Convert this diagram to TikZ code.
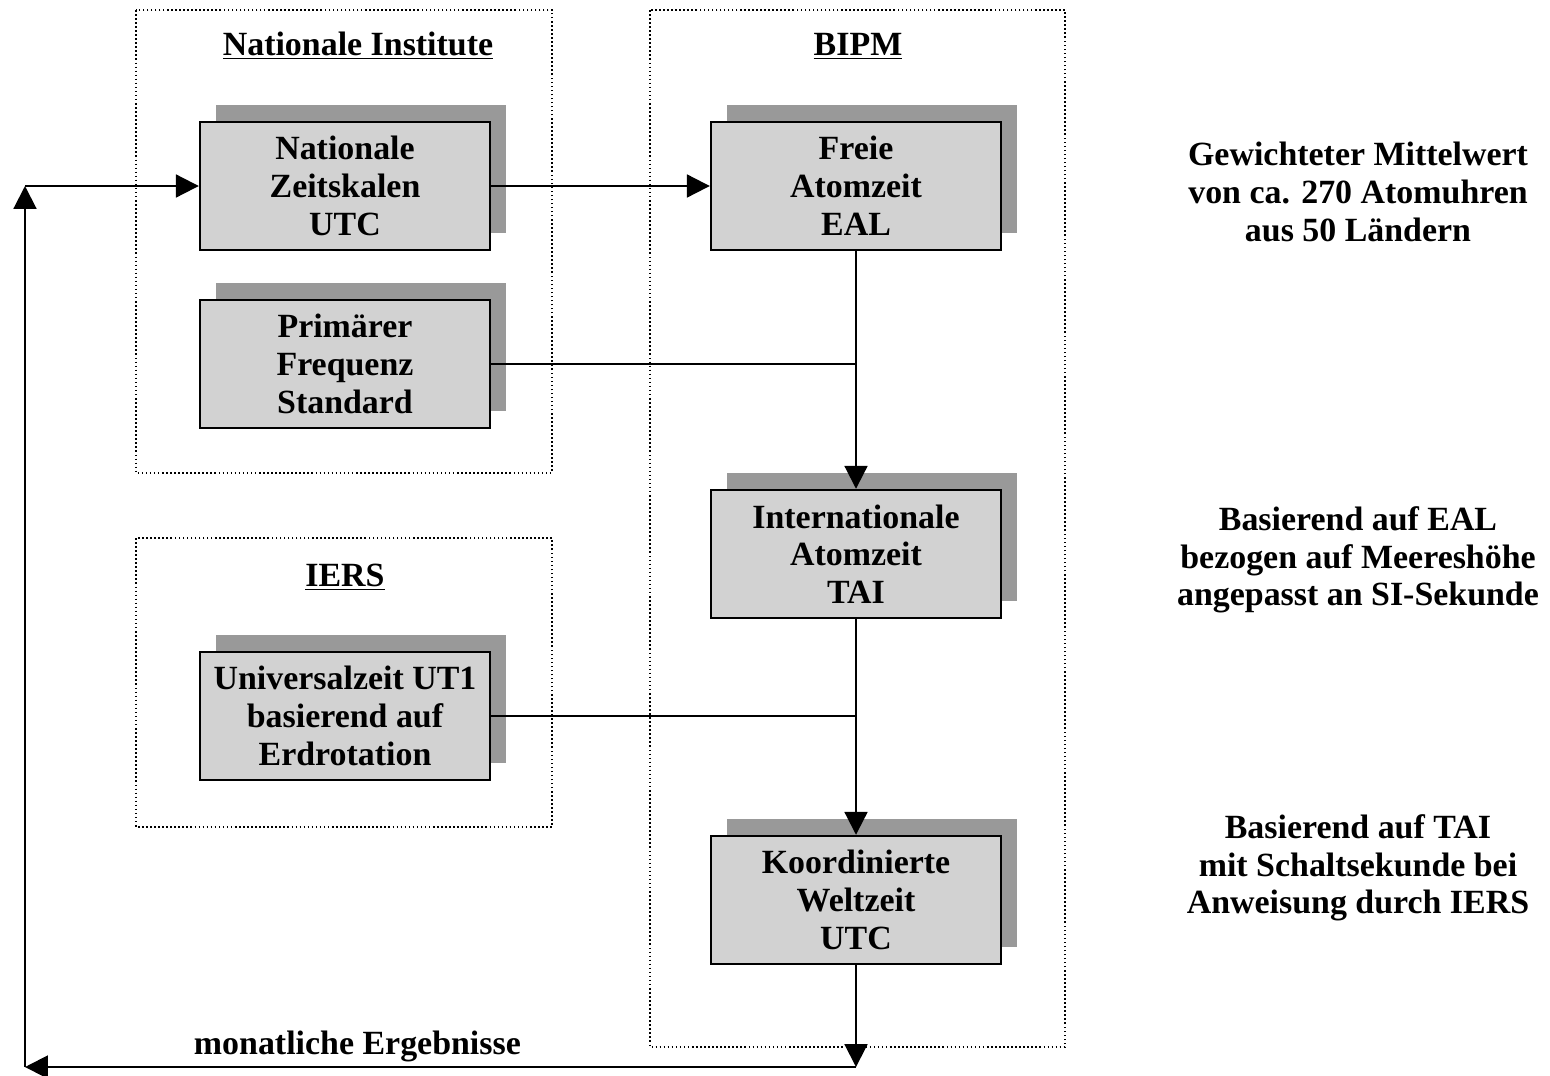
\documentclass[tikz,border=0pt]{standalone}
\usepackage{fontspec}
\setmainfont{Liberation Serif}
\usetikzlibrary{arrows.meta,shadows}

\begin{document}
\begin{tikzpicture}[
	x=0.02cm, y=-0.02cm,
	>={Triangle[length=13pt,width=13pt]},
	every node/.style={font=\fontsize{19.3}{21.5}\selectfont\bfseries, align=center},
	flow/.style={line width=1.2pt},
	group/.style={line width=0.9pt, dash pattern=on 0.9pt off 1.4pt},
	timebox/.style={draw=black, line width=1.4pt, fill=gray!35,
		minimum width=5.8cm, minimum height=2.56cm, inner sep=0pt,
		general shadow={fill=gray!80, shadow xshift=0.32cm, shadow yshift=0.34cm}},
	grouptitle/.style={},
	note/.style={}
	]
	\useasboundingbox (0,0) rectangle (1550,1075);
	
	% gruppen
	\draw[group] (136,10) rectangle (552,473);
	\draw[group] (650,10) rectangle (1065,1047);
	\draw[group] (136,538) rectangle (552,827);
	\node[grouptitle] (tnat) at (358,46) {\underline{Nationale Institute}};
	\node[grouptitle] (tbipm) at (858,46) {\underline{BIPM}};
	\node[grouptitle] (tiers) at (345,577) {\underline{IERS}};
	
	% zeitskalen
	\node[timebox] (nz) at (345,186) {Nationale\\Zeitskalen\\UTC};
	\node[timebox] (pfs) at (345,364) {Primärer\\Frequenz\\Standard};
	\node[timebox] (ut1) at (345,716) {Universalzeit UT1\\basierend auf\\Erdrotation};
	\node[timebox] (eal) at (856,186) {Freie\\Atomzeit\\EAL};
	\node[timebox] (tai) at (856,554) {Internationale\\Atomzeit\\TAI};
	\node[timebox] (utc) at (856,900) {Koordinierte\\Weltzeit\\UTC};
	
	% erlaeuterungen
	\node[note] (n1) at (1358,192) {Gewichteter Mittelwert\\von ca. 270 Atomuhren\\aus 50 Ländern};
	\node[note] (n2) at (1358,560) {Basierend auf EAL\\bezogen auf Meereshöhe\\angepasst an SI-Sekunde};
	\node[note] (n3) at (1358,868) {Basierend auf TAI\\mit Schaltsekunde bei\\Anweisung durch IERS};
	
	\coordinate (ret) at (856,1067);
	\coordinate (corner) at (25,1067);
	\coordinate (top) at (25,186);
	
	\draw[flow,->] (nz.east) -- (eal.west);
	\draw[flow,->] (eal.south) -- (tai.north);
	\draw[flow] (pfs.east) -- (pfs.east -| eal.south);
	\draw[flow,->] (tai.south) -- (utc.north);
	\draw[flow] (ut1.east) -- (ut1.east -| tai.south);
	\draw[flow,->] (utc.south) -- (ret);
	\draw[flow,->] (ret) -- node[above, pos=0.6, yshift=-1pt] (lbl) {monatliche Ergebnisse} (corner);
	\draw[flow,->] (corner) -- (top);
	\draw[flow,->] (top) -- (nz.west);
\end{tikzpicture}
\end{document}
